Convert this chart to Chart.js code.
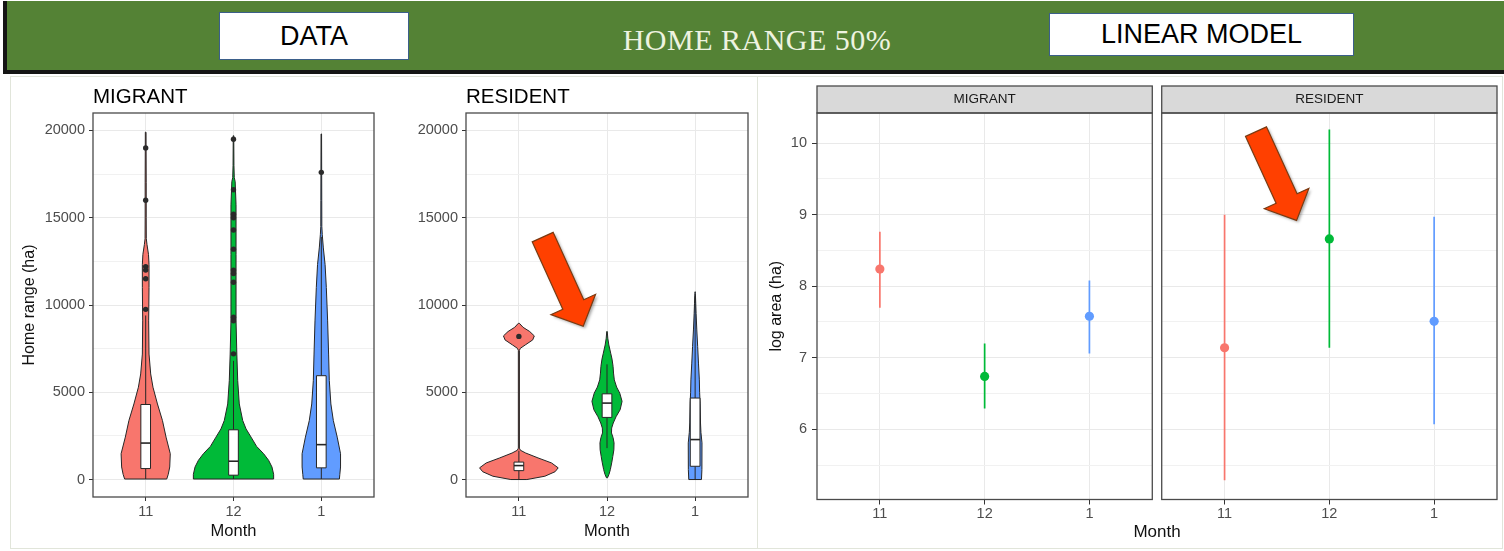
<!DOCTYPE html>
<html>
<head>
<meta charset="utf-8">
<script src="https://cdn.jsdelivr.net/npm/chart.js@4.4.0/dist/chart.umd.min.js"></script>
<style>
html,body{margin:0;padding:0;background:#fff;}
body{width:1504px;height:551px;position:relative;overflow:hidden;font-family:'Liberation Sans',Arial,sans-serif;}
#banner{position:absolute;left:3px;top:1px;width:1497px;height:69px;background:#548235;border-left:4px solid #151515;border-bottom:4px solid #151515;}
.box{position:absolute;background:#fff;border:1px solid #3b5f8a;box-sizing:border-box;display:flex;align-items:center;justify-content:center;font-size:27px;color:#000;font-family:'Liberation Sans',Arial,sans-serif;}
#mainTitle{position:absolute;left:507px;width:500px;top:21px;height:38px;line-height:38px;text-align:center;font-family:'Liberation Serif','DejaVu Serif',serif;font-size:30px;color:#eef3e0;letter-spacing:0.5px;}
.frame{position:absolute;border:1px solid #e1e5da;box-sizing:border-box;}
canvas{position:absolute;}
</style>
</head>
<body>
<div id="banner"></div>
<div class="box" style="left:219px;top:12px;width:190px;height:48px;">DATA</div>
<div id="mainTitle">HOME RANGE 50%</div>
<div class="box" style="left:1049px;top:13px;width:305px;height:43px;">LINEAR MODEL</div>
<div class="frame" style="left:10px;top:76px;width:748px;height:473px;"></div>
<div class="frame" style="left:757px;top:76px;width:746px;height:473px;"></div>
<canvas id="c1" width="370" height="470" style="left:12px;top:76px;"></canvas>
<canvas id="c2" width="364" height="470" style="left:390px;top:76px;"></canvas>
<canvas id="c3" width="742" height="470" style="left:760px;top:76px;"></canvas>
<script>
// ---------------- DATA ----------------
const months = ['11', '12', '1'];
const groupColors = ['#F8766D', '#00BA38', '#619CFF'];

const violinYTicks = [0, 5000, 10000, 15000, 20000];
const violinYMinor = [2500, 7500, 12500, 17500];
const lmYTicks = [6, 7, 8, 9, 10];
const lmYMinor = [5.5, 6.5, 7.5, 8.5, 9.5];

// Violin outlines: home range values (ha) and density half-widths (category units)
const migrantViolinY = [
  [30, 300, 720, 1480, 2430, 3380, 4330, 5290, 6050, 7190, 9090, 11000, 12320, 12900, 13460, 13800, 15000, 17000, 19900],
  [30, 300, 720, 1100, 1480, 1900, 2430, 2900, 3380, 4330, 5670, 7190, 9090, 12900, 15740, 17070, 17300, 18000, 19700],
  [30, 300, 720, 1480, 2430, 3380, 4330, 5670, 7190, 9090, 11000, 12320, 13270, 14030, 14500, 16000, 19800]
];
const migrantViolinW = [
  [0.240, 0.257, 0.274, 0.280, 0.232, 0.191, 0.134, 0.083, 0.057, 0.038, 0.034, 0.038, 0.038, 0.032, 0.015, 0.007, 0.006, 0.006, 0.004],
  [0.457, 0.457, 0.438, 0.400, 0.343, 0.263, 0.200, 0.143, 0.105, 0.066, 0.048, 0.038, 0.029, 0.029, 0.029, 0.019, 0.009, 0.005, 0.003],
  [0.206, 0.211, 0.219, 0.219, 0.181, 0.137, 0.109, 0.091, 0.083, 0.072, 0.057, 0.043, 0.023, 0.011, 0.006, 0.005, 0.003]
];
const residentViolinY = [
  [0, 190, 450, 670, 950, 1240, 1520, 1680, 1800, 7400, 7520, 7710, 8000, 8230, 8480, 8720, 8950],
  [100, 300, 570, 1000, 1330, 1700, 2100, 2400, 2670, 2950, 3240, 3600, 4000, 4480, 4950, 5300, 5710, 6100, 6480, 6900, 7240, 7710, 8100, 8480],
  [0, 570, 2100, 2700, 3240, 4380, 5000, 5710, 6670, 7620, 8570, 9520, 10100, 10670, 10760]
];
const residentViolinW = [
  [0.091, 0.295, 0.411, 0.446, 0.371, 0.217, 0.077, 0.017, 0.006, 0.006, 0.017, 0.072, 0.157, 0.175, 0.123, 0.048, 0.006],
  [0.006, 0.023, 0.038, 0.055, 0.066, 0.078, 0.080, 0.069, 0.051, 0.053, 0.071, 0.103, 0.149, 0.171, 0.145, 0.109, 0.083, 0.074, 0.069, 0.057, 0.042, 0.021, 0.009, 0.003],
  [0.072, 0.077, 0.078, 0.066, 0.061, 0.057, 0.051, 0.048, 0.038, 0.029, 0.019, 0.011, 0.007, 0.003, 0.001]
];

// Boxplot statistics
const migrantQ1 = [630, 250, 670];
const migrantMedian = [2090, 1050, 2000];
const migrantQ3 = [4300, 2850, 5950];
const migrantWhiskerLo = [30, 30, 30];
const migrantWhiskerHi = [9400, 6800, 13900];
const migrantOutliers = [
  [19000, 16000, 12200, 12000, 11500, 9750],
  [19500, 16600, 15200, 15000, 14300, 13200, 12000, 11800, 11300, 9300, 9100, 7200],
  [17600]
];
const residentQ1 = [510, 3560, 760];
const residentMedian = [800, 4380, 2290];
const residentQ3 = [1000, 4910, 4670];
const residentWhiskerLo = [0, 1800, 0];
const residentWhiskerHi = [1650, 6600, 10500];
const residentOutliers = [[8200], [], []];

// Linear model: estimate and interval on log area (ha)
const migrantEst = [8.24, 6.74, 7.58];
const migrantLo = [7.70, 6.29, 7.06];
const migrantHi = [8.76, 7.20, 8.08];
const residentEst = [7.14, 8.66, 7.51];
const residentLo = [5.29, 7.14, 6.07];
const residentHi = [9.00, 10.19, 8.97];

// ---------------- RENDERING ----------------
const FONT = "'Liberation Sans', Arial, sans-serif";
Chart.defaults.font.family = FONT;
Chart.defaults.devicePixelRatio = 1;

function drawArrow(ctx, x0, y0, x1, y1) {
  const dx = x1 - x0, dy = y1 - y0, L = Math.hypot(dx, dy);
  const ux = dx / L, uy = dy / L, px = -uy, py = ux;
  const sw = 11.5, hw = 24.5, hl = 24;
  const bx = x1 - ux * hl, by = y1 - uy * hl;
  const pts = [[x0 + px * sw, y0 + py * sw], [bx + px * sw, by + py * sw], [bx + px * hw, by + py * hw], [x1, y1],
               [bx - px * hw, by - py * hw], [bx - px * sw, by - py * sw], [x0 - px * sw, y0 - py * sw]];
  ctx.save();
  ctx.beginPath();
  pts.forEach((p, i) => i ? ctx.lineTo(p[0], p[1]) : ctx.moveTo(p[0], p[1]));
  ctx.closePath();
  ctx.shadowColor = 'rgba(0,0,0,0.35)'; ctx.shadowBlur = 3; ctx.shadowOffsetX = 2; ctx.shadowOffsetY = 2;
  ctx.fillStyle = '#ff4000';
  ctx.fill();
  ctx.shadowColor = 'transparent';
  ctx.lineWidth = 1.2; ctx.strokeStyle = '#7a3b12';
  ctx.stroke();
  ctx.restore();
}

function violinPlugin(vy, vw, q1, med, q3, wlo, whi, arrow) {
  return {
    id: 'violins',
    beforeDatasetsDraw(chart) {
      const {ctx, chartArea: a, scales: {x, y}} = chart;
      ctx.save();
      ctx.beginPath(); ctx.rect(a.left, a.top, a.right - a.left, a.bottom - a.top); ctx.clip();
      ctx.lineJoin = 'round';
      for (let i = 0; i < vy.length; i++) {
        ctx.beginPath();
        for (let j = 0; j < vy[i].length; j++) {
          const px = x.getPixelForValue(i - vw[i][j]), py = y.getPixelForValue(vy[i][j]);
          j ? ctx.lineTo(px, py) : ctx.moveTo(px, py);
        }
        for (let j = vy[i].length - 1; j >= 0; j--) {
          ctx.lineTo(x.getPixelForValue(i + vw[i][j]), y.getPixelForValue(vy[i][j]));
        }
        ctx.closePath();
        ctx.fillStyle = groupColors[i]; ctx.fill();
        ctx.lineWidth = 1.0; ctx.strokeStyle = '#262626'; ctx.stroke();
        const cx = x.getPixelForValue(i);
        ctx.beginPath();
        ctx.moveTo(cx, y.getPixelForValue(wlo[i])); ctx.lineTo(cx, y.getPixelForValue(q1[i]));
        ctx.moveTo(cx, y.getPixelForValue(q3[i])); ctx.lineTo(cx, y.getPixelForValue(whi[i]));
        ctx.stroke();
        const bl = x.getPixelForValue(i - 0.055), br = x.getPixelForValue(i + 0.055);
        const bt = y.getPixelForValue(q3[i]), bb = y.getPixelForValue(q1[i]);
        ctx.fillStyle = '#fff'; ctx.fillRect(bl, bt, br - bl, bb - bt);
        ctx.strokeRect(bl, bt, br - bl, bb - bt);
        ctx.beginPath(); ctx.lineWidth = 1.6;
        const my = y.getPixelForValue(med[i]);
        ctx.moveTo(bl, my); ctx.lineTo(br, my); ctx.stroke();
      }
      ctx.restore();
    },
    afterDraw(chart) {
      const {ctx, chartArea: a, scales: {x, y}} = chart;
      ctx.save();
      ctx.strokeStyle = '#4a4a4a'; ctx.lineWidth = 1.3;
      ctx.strokeRect(a.left, a.top, a.right - a.left, a.bottom - a.top);
      ctx.restore();
      if (arrow) drawArrow(ctx, x.getPixelForValue(arrow.from[0]), y.getPixelForValue(arrow.from[1]),
                                x.getPixelForValue(arrow.to[0]), y.getPixelForValue(arrow.to[1]));
    }
  };
}

function gridColor(minor) {
  return c => (c.tick && minor.includes(c.tick.value)) ? '#f1f1f1' : '#e9e9e9';
}
function tickColor(minor) {
  return c => (c.tick && minor.includes(c.tick.value)) ? 'rgba(0,0,0,0)' : '#333333';
}

function violinChart(id, title, vy, vw, q1, med, q3, wlo, whi, outliers, yAxisW, rightPad, yTitle, arrow) {
  const pts = [];
  outliers.forEach((arr, i) => arr.forEach(v => pts.push({x: i, y: v})));
  const allY = violinYTicks.concat(violinYMinor).sort((a, b) => a - b);
  return new Chart(document.getElementById(id), {
    type: 'scatter',
    data: {datasets: [{data: pts, pointRadius: 2.7, pointBackgroundColor: '#2a2a2a', pointBorderWidth: 0, pointHoverRadius: 2.7}]},
    options: {
      responsive: false, animation: false, events: [],
      layout: {padding: {left: 0, right: rightPad, top: 0, bottom: 0}},
      plugins: {
        legend: {display: false}, tooltip: {enabled: false},
        title: {display: true, text: title, align: 'start', fullSize: false, color: '#000',
                font: {size: 20.5, weight: 'normal'}, padding: {top: 9.2, bottom: 3.2}}
      },
      scales: {
        x: {
          type: 'linear', min: -0.6, max: 2.6,
          afterBuildTicks: s => { s.ticks = months.map((m, i) => ({value: i})); },
          afterFit: s => { s.height = 49; },
          ticks: {autoSkip: false, maxRotation: 0, color: '#4d4d4d', font: {size: 14.5}, padding: 2.5,
                  callback: (v, i) => months[i]},
          grid: {color: '#e9e9e9', lineWidth: 1, tickColor: '#333333', tickLength: 4},
          border: {display: false},
          title: {display: true, text: 'Month', color: '#111', font: {size: 16.5}, padding: {top: 0, bottom: 5}}
        },
        y: {
          type: 'linear', min: -1000, max: 21000,
          afterBuildTicks: s => { s.ticks = allY.map(v => ({value: v})); },
          afterFit: s => { s.width = yAxisW; },
          ticks: {autoSkip: false, color: '#4d4d4d', font: {size: 14.5}, padding: 4,
                  callback: v => violinYTicks.includes(v) ? String(v) : ''},
          grid: {color: gridColor(violinYMinor), lineWidth: 1, tickColor: tickColor(violinYMinor), tickLength: 4},
          border: {display: false},
          title: {display: !!yTitle, text: yTitle || '', color: '#111', font: {size: 16}, padding: {top: 8.4, bottom: 0}}
        }
      }
    },
    plugins: [violinPlugin(vy, vw, q1, med, q3, wlo, whi, arrow)]
  });
}

violinChart('c1', 'MIGRANT', migrantViolinY, migrantViolinW, migrantQ1, migrantMedian, migrantQ3,
            migrantWhiskerLo, migrantWhiskerHi, migrantOutliers, 81, 8, 'Home range (ha)', null);
violinChart('c2', 'RESIDENT', residentViolinY, residentViolinW, residentQ1, residentMedian, residentQ3,
            residentWhiskerLo, residentWhiskerHi, residentOutliers, 76, 6, null,
            {from: [0.27, 13890], to: [0.73, 8780]});

// ---------- Linear model facets ----------
const facetOffset = 3.29;           // second facet shifted along the shared x scale
const facetLabels = ['MIGRANT', 'RESIDENT'];
const facetRanges = [[-0.6, 2.6], [facetOffset - 0.6, facetOffset + 2.6]];
const lmDatasets = [];
[[migrantEst, migrantLo, migrantHi, 0], [residentEst, residentLo, residentHi, facetOffset]].forEach(([est, lo, hi, off]) => {
  for (let i = 0; i < 3; i++) {
    lmDatasets.push({data: [{x: i + off, y: lo[i]}, {x: i + off, y: hi[i]}], showLine: true,
                     borderColor: groupColors[i], borderWidth: 1.7, pointRadius: 0, pointHoverRadius: 0});
  }
  lmDatasets.push({data: est.map((v, i) => ({x: i + off, y: v})), showLine: false, pointRadius: 4.6, pointHoverRadius: 4.6,
                   pointBackgroundColor: groupColors, pointBorderColor: groupColors, pointBorderWidth: 0});
});
const lmAllY = lmYTicks.concat(lmYMinor).sort((a, b) => a - b);
const lmXTicks = [0, 1, 2, facetOffset, facetOffset + 1, facetOffset + 2];

const facetPlugin = {
  id: 'facets',
  beforeDatasetsDraw(chart) {
    const {ctx, chartArea: a, scales: {x}} = chart;
    const g0 = x.getPixelForValue(facetRanges[0][1]), g1 = x.getPixelForValue(facetRanges[1][0]);
    ctx.save(); ctx.fillStyle = '#fff'; ctx.fillRect(g0, a.top - 30, g1 - g0, a.bottom - a.top + 30); ctx.restore();
  },
  afterDraw(chart) {
    const {ctx, chartArea: a, scales: {x, y}} = chart;
    ctx.save();
    facetRanges.forEach((r, k) => {
      const l = x.getPixelForValue(r[0]), rr = x.getPixelForValue(r[1]);
      ctx.fillStyle = '#d9d9d9';
      ctx.fillRect(l, a.top - 27, rr - l, 27);
      ctx.strokeStyle = '#4a4a4a'; ctx.lineWidth = 1.3;
      ctx.strokeRect(l, a.top - 27, rr - l, 27);
      ctx.strokeRect(l, a.top, rr - l, a.bottom - a.top);
      ctx.fillStyle = '#1a1a1a'; ctx.font = '13.5px ' + FONT;
      ctx.textAlign = 'center'; ctx.textBaseline = 'middle';
      ctx.fillText(facetLabels[k], (l + rr) / 2, a.top - 13.5);
    });
    ctx.restore();
    drawArrow(ctx, x.getPixelForValue(facetOffset + 0.30), y.getPixelForValue(10.16),
                   x.getPixelForValue(facetOffset + 0.687), y.getPixelForValue(8.92));
  }
};

new Chart(document.getElementById('c3'), {
  type: 'scatter',
  data: {datasets: lmDatasets},
  options: {
    responsive: false, animation: false, events: [],
    layout: {padding: {left: 0, right: 5, top: 37, bottom: 0}},
    plugins: {legend: {display: false}, tooltip: {enabled: false}},
    scales: {
      x: {
        type: 'linear', min: facetRanges[0][0], max: facetRanges[1][1],
        afterBuildTicks: s => { s.ticks = lmXTicks.map(v => ({value: v})); },
        afterFit: s => { s.height = 46.5; },
        ticks: {autoSkip: false, maxRotation: 0, color: '#4d4d4d', font: {size: 14.5}, padding: 1,
                callback: (v, i) => months[i % 3]},
        grid: {color: '#e9e9e9', lineWidth: 1, tickColor: '#333333', tickLength: 5},
        border: {display: false},
        title: {display: true, text: 'Month', color: '#111', font: {size: 17}, padding: {top: 0, bottom: 3.8}}
      },
      y: {
        type: 'linear', min: 5.02, max: 10.42,
        afterBuildTicks: s => { s.ticks = lmAllY.map(v => ({value: v})); },
        afterFit: s => { s.width = 57; },
        ticks: {autoSkip: false, color: '#4d4d4d', font: {size: 14.5}, padding: 5,
                callback: v => lmYTicks.includes(v) ? String(v) : ''},
        grid: {color: gridColor(lmYMinor), lineWidth: 1, tickColor: tickColor(lmYMinor), tickLength: 5},
        border: {display: false},
        title: {display: true, text: 'log area (ha)', color: '#111', font: {size: 16}, padding: {top: 7.4, bottom: 0}}
      }
    }
  },
  plugins: [facetPlugin]
});
</script>
</body>
</html>
